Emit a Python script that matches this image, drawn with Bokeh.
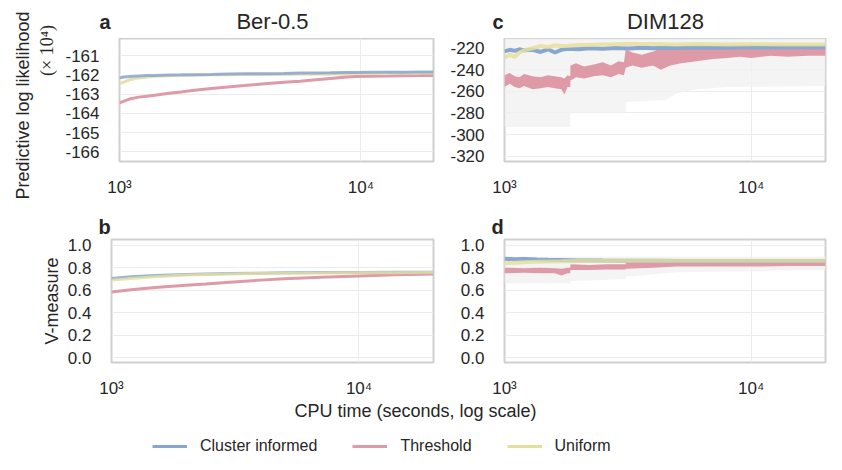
import math
from bokeh.plotting import figure
from bokeh.layouts import column, row
from bokeh.models import (FixedTicker, Label, Legend, LegendItem, Title,
                          Range1d, NumeralTickFormatter)
from bokeh.embed import file_html
from bokeh.resources import INLINE

FONT = "Liberation Sans"
TXT = "#262626"
BLUE = "#88a6cf"
RED = "#df9aa7"
YELLOW = "#e4df9e"
GRAY = "#f1f1f1"

# ---- Ber-0.5, predictive log likelihood (x 10^4) ----
t_a = [1000, 1050, 1100, 1200, 1300, 1400, 1600, 1800, 2000, 2400, 2800, 3300,
       4000, 4800, 5600, 6500, 7500, 8500, 9500, 11000, 13000, 15000, 17500, 20000]
ll_a_cluster = [-162.15, -162.1, -162.08, -162.05, -162.03, -162.02, -162.0, -161.99,
                -161.98, -161.97, -161.95, -161.94, -161.93, -161.92, -161.9, -161.89,
                -161.88, -161.87, -161.87, -161.86, -161.85, -161.85, -161.84, -161.84]
ll_a_threshold = [-163.45, -163.35, -163.25, -163.15, -163.1, -163.05, -162.95, -162.88,
                  -162.8, -162.7, -162.62, -162.55, -162.45, -162.38, -162.32, -162.25,
                  -162.18, -162.12, -162.08, -162.06, -162.05, -162.04, -162.03, -162.02]
ll_a_uniform = [-162.45, -162.35, -162.25, -162.15, -162.1, -162.07, -162.04, -162.02,
                -162.01, -161.99, -161.98, -161.97, -161.96, -161.95, -161.94, -161.93,
                -161.92, -161.92, -161.91, -161.91, -161.9, -161.9, -161.9, -161.9]

# ---- Ber-0.5, V-measure ----
t_b = [1000, 1200, 1500, 2000, 2400, 3000, 4000, 5000, 7000, 10000, 14000, 20000]
vm_b_cluster = [0.705, 0.72, 0.73, 0.74, 0.744, 0.748, 0.752, 0.755, 0.757, 0.758, 0.759, 0.76]
vm_b_threshold = [0.585, 0.605, 0.625, 0.645, 0.655, 0.672, 0.69, 0.702, 0.715, 0.727, 0.737, 0.745]
vm_b_uniform = [0.69, 0.705, 0.72, 0.735, 0.74, 0.745, 0.75, 0.752, 0.754, 0.755, 0.756, 0.757]

# ---- DIM128, predictive log likelihood (x 10^4) ----
t_c = [1000, 1050, 1100, 1150, 1200, 1300, 1400, 1500, 1600, 1700, 1800, 2000, 2200,
       2500, 2800, 3200, 3600, 4000, 4500, 5000, 6000, 8000, 10000, 14000, 20000]
ll_c_cluster = [-223, -221.5, -222.5, -221, -222, -221.5, -223.5, -221, -224, -221.5,
                -220.5, -221, -220, -220.5, -219.8, -220.2, -219.5, -220, -219.5, -219.8,
                -219.3, -219.5, -219.2, -219.3, -219.2]
ll_c_uniform = [-229, -226, -228, -224, -222, -220, -218, -219, -217.5, -218, -218, -217,
                -217, -216.5, -216.3, -216, -216.2, -216, -216.3, -216.5, -216, -216.5,
                -216.3, -216.5, -216.5]
t_c_thr = [1000, 1050, 1100, 1150, 1200, 1300, 1400, 1500, 1600, 1700, 1750, 1800, 1849,
           1850, 1950, 2100, 2300, 2500, 2700, 2900, 3050, 3100, 3300, 3600, 4000, 4300,
           4700, 5200, 6000, 7000, 8000, 9000, 10000, 12000, 14000, 17000, 20000]
ll_c_thr_hi = [-245, -243, -246, -247, -244, -246, -247, -245, -246, -247, -248, -245, -246,
               -236, -234, -237, -235, -233, -236, -232, -233, -221, -224, -226, -223, -220,
               -221, -220, -219, -219, -219, -219, -219, -219, -219, -219, -219]
ll_c_thr_lo = [-256, -253, -256, -257, -255, -258, -257, -256, -257, -258, -263, -256, -256,
               -250, -247, -248, -246, -245, -247, -244, -245, -238, -236, -238, -236, -240,
               -236, -234, -232, -230, -229, -228, -229, -227, -228, -227, -227]
t_c_runs = [1000, 1849, 1850, 3099, 3100, 4500, 5000, 6000, 8000, 20000]
ll_c_runs_lo = [-293, -293, -280, -280, -270, -268, -262, -258, -256, -255]
ll_c_runs_hi = [-211, -211, -211, -211, -211, -211, -211, -211, -211, -211]

# ---- DIM128, V-measure ----
t_d = [1000, 1100, 1200, 1350, 1500, 1700, 2000, 2500, 3000, 4000, 5000, 7000, 10000, 14000, 20000]
vm_d_cluster = [0.88, 0.875, 0.878, 0.872, 0.87, 0.868, 0.865, 0.863, 0.862, 0.861, 0.86,
                0.86, 0.86, 0.86, 0.86]
vm_d_uniform = [0.84, 0.845, 0.848, 0.852, 0.855, 0.857, 0.86, 0.861, 0.862, 0.862, 0.862,
                0.862, 0.862, 0.862, 0.862]
t_d_thr = [1000, 1200, 1400, 1600, 1700, 1800, 1849, 1850, 2200, 2600, 3099, 3100, 4000,
           5000, 7000, 10000, 14000, 20000]
vm_d_thr_hi = [0.80, 0.795, 0.80, 0.795, 0.79, 0.80, 0.80, 0.83, 0.825, 0.83, 0.83, 0.85,
               0.85, 0.86, 0.86, 0.86, 0.86, 0.86]
vm_d_thr_lo = [0.75, 0.755, 0.75, 0.75, 0.73, 0.75, 0.75, 0.78, 0.78, 0.785, 0.785, 0.79,
               0.80, 0.81, 0.81, 0.81, 0.815, 0.815]
t_d_runs = [1000, 1849, 1850, 3099, 3100, 5000, 20000]
vm_d_runs_lo = [0.66, 0.66, 0.68, 0.70, 0.72, 0.76, 0.78]
vm_d_runs_hi = [0.90, 0.90, 0.90, 0.90, 0.90, 0.90, 0.90]

ll_a_ticks = [-166, -165, -164, -163, -162, -161]
ll_c_ticks = [-320, -300, -280, -260, -240, -220]
vm_ticks = [0.0, 0.2, 0.4, 0.6, 0.8, 1.0]
x_ticks = [1000, 10000]
x_tick_labels = {1000: "10³", 10000: "10⁴"}

SIDE_W = 62


def blank(width, height):
    """A figure used only as a canvas for text (1 data unit = 1 pixel)."""
    f = figure(width=width, height=height, x_range=Range1d(0, width),
               y_range=Range1d(0, height), output_backend="svg", toolbar_location=None,
               min_border_left=0, min_border_right=0, min_border_top=0, min_border_bottom=0)
    f.axis.visible = False
    f.grid.visible = False
    f.outline_line_color = None
    return f


def text(f, x, y, s, size="18px", style="normal", align="center", angle=0.0,
         font=FONT, baseline="middle"):
    f.add_layout(Label(x=x, y=y, text=s, angle=angle, text_align=align,
                       text_baseline=baseline, text_font=font, text_font_size=size,
                       text_font_style=style, text_color=TXT))


def panel(width, left, right, height, top, bottom, y0, y1, yticks):
    p = figure(width=width, height=height, x_axis_type="log",
               x_range=Range1d(1000, 20000), y_range=Range1d(y0, y1),
               output_backend="svg", toolbar_location=None,
               min_border_left=left, min_border_right=right, min_border_top=top,
               min_border_bottom=bottom)
    p.outline_line_color = "#cfcfcf"
    p.outline_line_width = 2
    p.xaxis.ticker = FixedTicker(ticks=x_ticks, minor_ticks=[])
    p.xaxis.major_label_overrides = x_tick_labels
    p.yaxis.ticker = FixedTicker(ticks=yticks, minor_ticks=[])
    for ax in (p.xaxis, p.yaxis):
        ax.axis_line_color = None
        ax.major_tick_line_color = None
        ax.minor_tick_line_color = None
        ax.major_label_text_font = FONT
        ax.major_label_text_font_size = "17px"
        ax.major_label_text_color = TXT
    p.xaxis.major_label_standoff = 10
    p.yaxis.major_label_standoff = 14
    p.xgrid.grid_line_color = "#ececec"
    p.ygrid.grid_line_color = "#ececec"
    return p


def letter_title(p, s):
    p.title = Title(text=s, align="left", offset=-13, standoff=4, text_font=FONT,
                    text_font_size="20px", text_font_style="bold", text_color=TXT)


LEFT_W = 842 - SIDE_W - 397
fa = panel(LEFT_W, 111 - SIDE_W, 12, 162, 0, 39, -166.5, -160.1, ll_a_ticks)
fc = panel(397, 59, 17, 162, 0, 39, -325, -211, ll_c_ticks)
fb = panel(LEFT_W, 111 - SIDE_W, 12, 200, 39, 38, -0.04, 1.05, vm_ticks)
fd = panel(397, 59, 17, 200, 39, 38, -0.04, 1.05, vm_ticks)
fa.yaxis.major_label_overrides = {v: str(v) for v in ll_a_ticks}
fc.yaxis.major_label_overrides = {v: str(v) for v in ll_c_ticks}
for p in (fb, fd):
    p.yaxis.formatter = NumeralTickFormatter(format="0.0")
letter_title(fb, "b")
letter_title(fd, "d")

# run-to-run spread (faint) for DIM128
fc.varea(x=t_c_runs, y1=ll_c_runs_lo, y2=ll_c_runs_hi, fill_color=GRAY, fill_alpha=0.8)
fd.varea(x=t_d_runs, y1=vm_d_runs_lo, y2=vm_d_runs_hi, fill_color=GRAY, fill_alpha=0.8)

lw = 3
fa.line(t_a, ll_a_threshold, line_color=RED, line_width=lw)
fa.line(t_a, ll_a_uniform, line_color=YELLOW, line_width=lw, line_alpha=0.9)
fa.line(t_a, ll_a_cluster, line_color=BLUE, line_width=lw, line_alpha=0.85)

fb.line(t_b, vm_b_threshold, line_color=RED, line_width=lw)
fb.line(t_b, vm_b_cluster, line_color=BLUE, line_width=lw, line_alpha=0.85)
fb.line(t_b, vm_b_uniform, line_color=YELLOW, line_width=lw, line_alpha=0.8)

fc.varea(x=t_c_thr, y1=ll_c_thr_lo, y2=ll_c_thr_hi, fill_color=RED)
fc.line(t_c, ll_c_cluster, line_color=BLUE, line_width=lw + 1)
fc.line(t_c, ll_c_uniform, line_color=YELLOW, line_width=lw + 1, line_alpha=0.85)

fd.varea(x=t_d_thr, y1=vm_d_thr_lo, y2=vm_d_thr_hi, fill_color=RED)
fd.line(t_d, vm_d_cluster, line_color=BLUE, line_width=lw + 1)
fd.line(t_d, vm_d_uniform, line_color=YELLOW, line_width=lw + 1, line_alpha=0.8)

# panel letters and titles of the top row (strip x = page x - SIDE_W)
top1 = blank(842 - SIDE_W, 38)
text(top1, 110 - SIDE_W, 17, "a", size="20px", style="bold", align="right")
text(top1, 272 - SIDE_W, 17, "Ber-0.5", size="22px")
text(top1, 503 - SIDE_W, 17, "c", size="20px", style="bold", align="right")
text(top1, 665 - SIDE_W, 17, "DIM128", size="22px")

# y-axis titles
side1 = blank(SIDE_W, 200)
text(side1, 22, 95, "Predictive log likelihood", angle=math.pi / 2)
text(side1, 46, 150, "(× 10⁴)", angle=math.pi / 2, font="Liberation Serif", size="18px")
side2 = blank(SIDE_W, 200)
text(side2, 51, 100, "V-measure", angle=math.pi / 2)

# shared x label and legend strip
fl = blank(842, 70)
text(fl, 415, 60, "CPU time (seconds, log scale)")
r1 = fl.line([-20, -10], [-20, -20], line_color=BLUE, line_width=3)
r2 = fl.line([-20, -10], [-20, -20], line_color=RED, line_width=3)
r3 = fl.line([-20, -10], [-20, -20], line_color=YELLOW, line_width=3)
leg = Legend(items=[LegendItem(label="Cluster informed", renderers=[r1]),
                    LegendItem(label="Threshold", renderers=[r2]),
                    LegendItem(label="Uniform", renderers=[r3])],
             orientation="horizontal", location=(152, 14), glyph_width=35,
             label_standoff=13, spacing=35, border_line_color=None,
             background_fill_alpha=0, label_text_font=FONT, label_text_font_size="16px",
             label_text_color=TXT, padding=0, margin=0)
fl.add_layout(leg, "center")

layout = column(
    row(side1, column(top1, row(fa, fc))),
    row(side2, fb, fd),
    fl,
)
open("out.html", "w").write(file_html(layout, INLINE))
